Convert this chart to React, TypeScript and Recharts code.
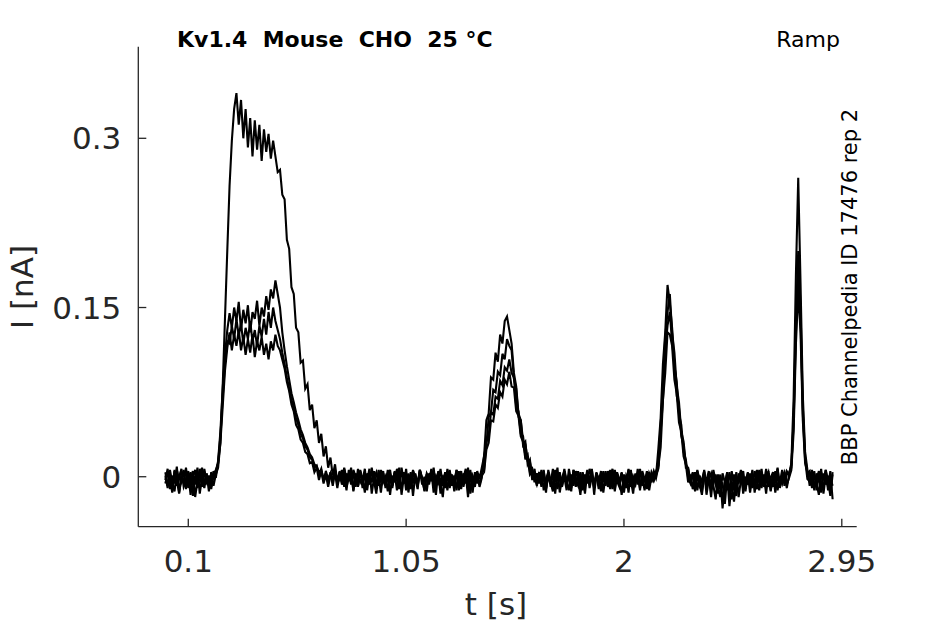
import { LineChart, Line, XAxis, YAxis } from 'recharts';

const FONT = '"DejaVu Sans", sans-serif';
const INK = '#262626';

const SAMPLE_INTERVAL_S = 0.01;
const TIME_TICKS = [0.1, 1.05, 2, 2.95];
const CURRENT_TICKS = [0, 0.15, 0.3];

// ramp sweeps, current in pA, one sample every 10 ms from t = 0
// segments: base | ramp 1 | base | ramp 2 | base | ramp 3 | base | ramp 4 | base
const sweep1 = [
  4, -8, 2, -12, 6, -3, -15, 1, -6, 8, -10, -2, 5, -18, -4, 3, -9, 7, -5, -1, -11, 2,
  6, 12, 30, 80, 140, 200, 258, 298, 326, 340, 312, 334, 300, 326, 292, 318, 284, 316, 290, 312,
  280, 308, 288, 304, 282, 298, 284, 270, 272, 250, 246, 210, 202, 168, 162, 132, 128, 101, 103, 78,
  82, 59, 64, 43, 50, 30, 38, 18, 27, 8, 17, 1, 11, -5,
  5, -4, 8, -2, 3, -7, 6, 0, -9, 4, -3, 7, -12, 2, -5, 5, -8, 1, -14, 3, -6, 6, -2, -10, 4, -4, 8,
  -16, 0, -7, 3, -11, 5, -3, -8, 6, -1, -13, 2, -5, 7, -9, -2, 4, -15, 1, -6, 5, -10, 0, -4, 6,
  -12, 3, -7, 2, -18, 4, -3, -9, 5, -2,
  8, 18, 50, 56, 88, 86, 110, 102, 126, 118, 138, 142, 130, 118, 92, 80, 56, 50, 32, 29, 14, 13, 2, -1,
  -5, 4, -9, 2, -14, 6, -3, -7, 3, -11, 1, -6, 7, -4, -12, 2, -8, 5, -2, -16, 3, -5, 6, -10, 0, -7,
  4, -3, -13, 2, -8, 5, -1, -11, 6, -4, -9, 3, -6, 1, -14, 4, -2, -7, 7, -10, 2, -5, 5, -12, 0, -4,
  1, 25, 52, 100, 128, 170, 154, 132, 98, 84, 56, 46, 22, 15, -1,
  -6, 3, -10, 5, -2, -13, 4, -7, 1, -9, 6, -4, -15, 2, -22, -8, 3, -26, -5, -12, 4, -18, -3, 5, -11,
  0, -7, 6, -14, 2, -5, 7, -9, -1, 4, -12, 3, -6, 8, -10, 1, -4, 5,
  2, 12, 70, 180, 265, 172, 72, 22, 6,
  -8, 4, -12, 3, -5, 7, -15, 1, -9, 5, -20,
];

const sweep2 = [
  -3, 7, -11, 1, -6, 9, -14, -2, 5, -8, 3, -16, 0, 6, -10, -4, 8, -7, 2, -13, 4, -1,
  3, 14, 40, 78, 108, 130, 145, 132, 150, 138, 155, 130, 148, 136, 152, 128, 146, 140, 156, 134,
  150, 142, 160, 148, 166, 158, 174, 162, 150, 128, 112, 98, 86, 74, 66, 57, 50, 42, 37, 30,
  26, 20, 17, 11, 9, 4, 6, -2, 3, -5, 4, -3, 6, -6,
  -2, 6, -9, 3, -4, 8, -12, 1, -6, 5, -10, 2, -3, 7, -15, -1, 4, -8, 6, -5, 0, -13, 3, -7, 5, -2,
  -11, 8, -4, 1, -9, 4, -17, 2, -6, 6, -3, -10, 3, -1, 5, -14, 0, -5, 7, -8, 2, -12, 4, -3, -7, 6,
  -2, -11, 3, -6, 8, -15, 1, -4, 3, -9,
  -1, 19, 28, 53, 57, 77, 75, 93, 90, 109, 104, 122, 116, 112, 87, 78, 53, 50, 28, 31, 11, 15, -3, 7,
  -8, 2, -4, 6, -11, 0, -6, 7, -15, 3, -2, -9, 5, -5, 1, -13, 6, -3, -8, 4, -12, 2, -6, 7, -1, -10,
  3, -4, 5, -14, 1, -7, 6, -3, -11, 4, -2, -16, 2, -5, 7, -9, 0, -6, 3, -12, 5, -2, -8, 4, -5, 2,
  5, 10, 46, 78, 124, 146, 162, 128, 110, 80, 66, 40, 31, 11, 7,
  -3, -9, 4, -12, 1, -6, 6, -16, -2, 3, -8, -20, 2, -11, -5, -24, 0, -14, 5, -9, -17, 3, -6, -1, -13,
  4, -8, 2, -4, -11, 6, -7, 1, -15, 3, -2, -9, 5, -12, 0, -6, 4, -10,
  1, 8, 52, 140, 200, 150, 62, 18, 3,
  5, -10, 2, -6, -16, 4, -3, 6, -12, -1, -8,
];

const sweep3 = [
  1, -10, 6, -5, -13, 3, -2, 7, -9, -4, 5, -12, 2, -7, 8, -15, -1, 4, -6, 1, -9, 5,
  -1, 12, 36, 70, 100, 120, 118, 134, 122, 140, 125, 136, 118, 132, 122, 138, 120, 130, 116, 134,
  124, 140, 126, 146, 132, 150, 138, 130, 122, 110, 100, 88, 78, 68, 62, 52, 46, 38, 34, 27,
  24, 17, 15, 8, 10, 2, 7, -4, 5, -2, 3, -8, 4, -3,
  4, -7, 1, -12, 6, -3, 2, -9, 7, -5, -1, -14, 3, -6, 5, -2, -10, 6, -4, 0, -8, 3, -16, 1, -5, 7,
  -3, -9, 4, -12, 2, -6, 6, -1, -11, 5, -7, 0, -13, 3, -4, 8, -9, 2, -6, -18, 4, -2, 6, -8, 1, -12,
  5, -5, -1, 7, -10, 2, -14, 4, -6, 1,
  4, 6, 31, 36, 57, 55, 71, 69, 85, 81, 97, 94, 104, 92, 88, 63, 58, 38, 36, 18, 20, 4, 7, -5,
  3, -6, 6, -12, -2, 4, -9, 1, -5, 8, -14, -1, 5, -7, 2, -10, 6, -4, 0, -13, 4, -8, 1, -5, 7, -16,
  3, -2, -9, 5, -6, 2, -11, 6, -3, 0, -8, 4, -14, 1, -4, 6, -10, 3, -7, 5, -1, -12, 2, -6, 4, -1,
  2, 7, 40, 68, 112, 134, 146, 118, 102, 72, 61, 36, 28, 8, 8,
  -5, 4, -13, 2, -8, -3, 5, -11, 0, -18, 3, -7, -14, 1, -28, -6, 4, -12, -20, 2, -9, -4, 6, -15, 0,
  -7, 3, -10, 5, -3, -12, 2, -6, 7, -9, -1, 4, -14, 1, -5, 6, -8, 2,
  3, 10, 48, 128, 180, 140, 56, 15, -2,
  -4, 6, -9, -2, 5, -14, 3, -7, 1, -11, 4,
];

const sweep4 = [
  -6, 3, -1, -14, 5, -8, 2, -4, 6, -11, -2, 4, -17, 1, -5, 7, -3, -10, 3, -6, 0, -8,
  2, 8, 30, 62, 94, 114, 128, 112, 126, 116, 130, 112, 124, 108, 122, 110, 126, 106, 120, 112,
  124, 108, 118, 104, 120, 112, 126, 116, 112, 104, 96, 84, 76, 64, 58, 46, 42, 33, 30, 22,
  20, 12, 13, 4, 8, -3, 5, -6, 2, -9, 1, -4, 3, -10,
  2, -5, 7, -9, -1, 4, -13, 3, -6, 6, -3, -11, 1, -7, 8, -4, -15, 2, -2, 5, -10, 0, 6, -8, 3, -12,
  -3, 4, -6, 7, -14, 1, -5, 3, -9, 6, -2, -12, 2, -7, 4, -1, -16, 5, -4, 0, -10, 7, -6, 2, -13, 3,
  -3, 5, -9, 1, -5, 6, -11, -1, 2, -7,
  1, 4, 24, 30, 50, 49, 64, 61, 75, 71, 86, 82, 93, 80, 79, 58, 54, 36, 31, 16, 16, 2, 5, -1,
  -7, 1, -3, 5, -10, 3, -5, -13, 6, -2, 4, -8, 0, -12, 7, -4, 2, -9, 5, -6, -1, -15, 4, -3, 6, -7,
  1, -11, 3, -5, 5, -9, -2, 7, -13, 1, -6, 3, -4, -10, 6, -3, -15, 2, -5, 7, -8, 0, -11, 3, -2, 5,
  -1, 9, 26, 68, 92, 128, 126, 116, 86, 74, 48, 40, 18, 11, -5,
  2, -11, -4, 6, -7, -16, 1, -3, 5, -12, -6, 2, -9, -18, 3, -5, -12, 4, -8, -22, 1, -6, 5, -11, -3,
  3, -14, 0, -7, 6, -4, -10, 2, -6, 5, -13, 1, -3, 7, -9, -1, 4, -7,
  -1, 6, 40, 118, 165, 128, 50, 12, 4,
  2, -7, 5, -12, 1, -5, -10, 6, -3, -17, 2,
];

const SWEEPS = [sweep1, sweep2, sweep3, sweep4];

const nSamples = Math.min(...SWEEPS.map((s) => s.length));
const rows = Array.from({ length: nSamples }, (_, i) => {
  const row: Record<string, number> = { t: Math.round(i * SAMPLE_INTERVAL_S * 1000) / 1000 };
  SWEEPS.forEach((s, k) => {
    row[`s${k}`] = s[i] / 1000; // pA -> nA
  });
  return row;
});

export default function App() {
  return (
    <div style={{ position: 'absolute', left: 0, top: 0, width: 945, height: 624, background: '#fff' }}>
      <LineChart
        width={945}
        height={624}
        data={rows}
        margin={{ top: 46.7, right: 88.3, bottom: 37.3, left: 58.3 }}
      >
        <XAxis
          dataKey="t"
          type="number"
          domain={[-0.118, 3.015]}
          ticks={TIME_TICKS}
          allowDataOverflow
          height={60}
          tickSize={-8}
          tickMargin={31}
          axisLine={{ stroke: INK, strokeWidth: 1.3 }}
          tickLine={{ stroke: INK, strokeWidth: 1.3 }}
          tick={{ fill: INK, fontSize: 31, fontFamily: FONT }}
        />
        <YAxis
          type="number"
          domain={[-0.0443, 0.3812]}
          ticks={CURRENT_TICKS}
          allowDataOverflow
          width={80}
          tickSize={-8}
          tickMargin={25}
          axisLine={{ stroke: INK, strokeWidth: 1.3 }}
          tickLine={{ stroke: INK, strokeWidth: 1.3 }}
          tick={{ fill: INK, fontSize: 31, fontFamily: FONT }}
        />
        {SWEEPS.map((_, k) => (
          <Line
            key={k}
            dataKey={`s${k}`}
            type="linear"
            stroke="#000"
            strokeWidth={2.1}
            dot={false}
            isAnimationActive={false}
          />
        ))}
      </LineChart>
      <svg
        width={945}
        height={624}
        style={{ position: 'absolute', left: 0, top: 0, pointerEvents: 'none' }}
      >
        <text
          x={177}
          y={46.7}
          xmlSpace="preserve"
          style={{ whiteSpace: 'pre' }}
          fontFamily={FONT}
          fontSize={22}
          fontWeight="bold"
          fill="#000"
        >
          {'Kv1.4  Mouse  CHO  25 °C'}
        </text>
        <text x={840} y={46.7} textAnchor="end" fontFamily={FONT} fontSize={22} fill="#000">
          Ramp
        </text>
        <text
          x={857}
          y={287}
          textAnchor="middle"
          transform="rotate(-90 857 287)"
          fontFamily={FONT}
          fontSize={21}
          fill="#000"
        >
          BBP Channelpedia ID 17476 rep 2
        </text>
        <text x={496} y={615} textAnchor="middle" fontFamily={FONT} fontSize={31} fill={INK}>
          t [s]
        </text>
        <text
          x={33}
          y={287}
          textAnchor="middle"
          transform="rotate(-90 33 287)"
          fontFamily={FONT}
          fontSize={31}
          fill={INK}
        >
          I [nA]
        </text>
      </svg>
    </div>
  );
}
